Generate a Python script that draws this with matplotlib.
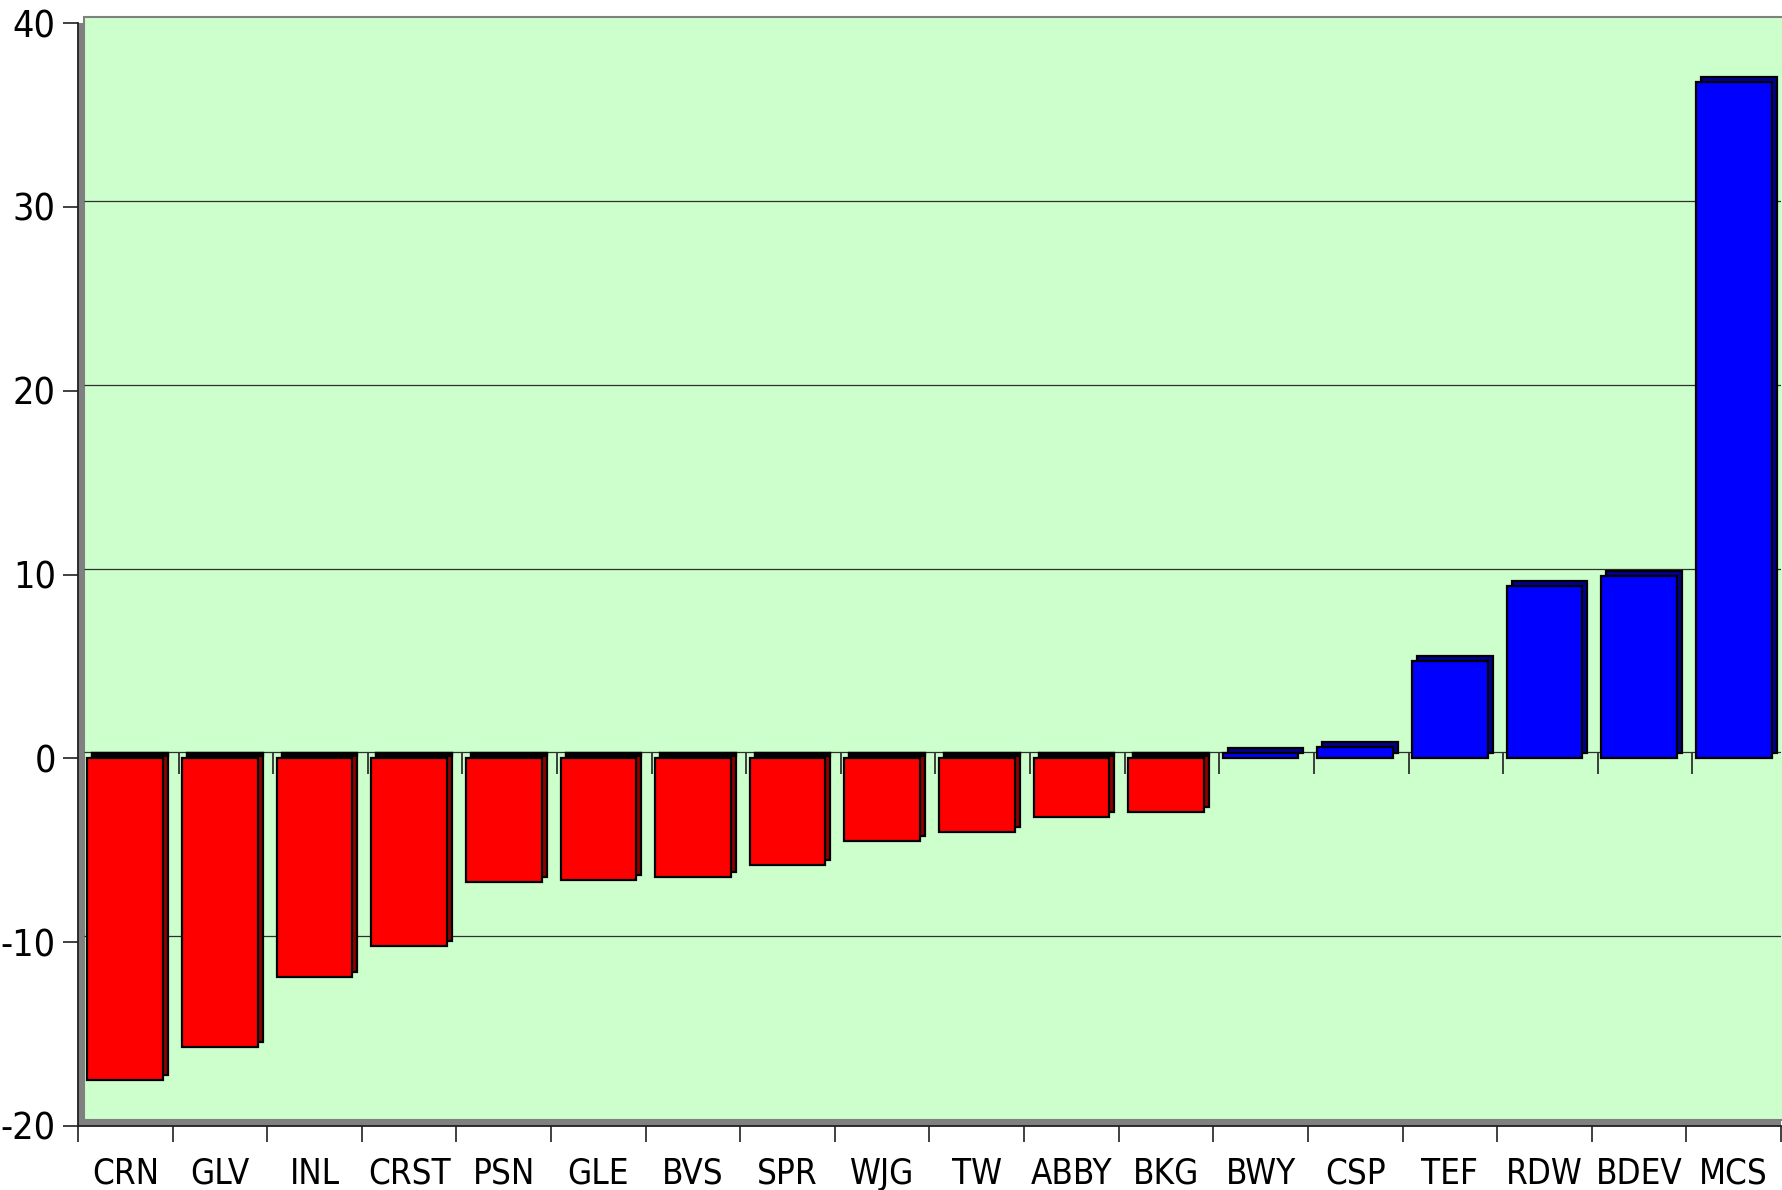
import matplotlib
matplotlib.use('Agg')
import matplotlib.pyplot as plt
import matplotlib.transforms as mtransforms
from matplotlib.patches import Rectangle
from matplotlib.ticker import FixedLocator

categories = ['CRN', 'GLV', 'INL', 'CRST', 'PSN', 'GLE', 'BVS', 'SPR', 'WJG', 'TW',
              'ABBY', 'BKG', 'BWY', 'CSP', 'TEF', 'RDW', 'BDEV', 'MCS']
values = [-17.5, -15.7, -11.9, -10.2, -6.7, -6.6, -6.45, -5.8, -4.5, -4.0,
          -3.2, -2.9, 0.3, 0.6, 5.3, 9.4, 9.9, 36.8]
yticks = [-20, -10, 0, 10, 20, 30, 40]

plt.rcParams['font.family'] = ['DejaVu Sans']
plt.rcParams['font.stretch'] = 'condensed'

W, H = 1782, 1190
fig = plt.figure(figsize=(W / 100, H / 100), dpi=100)
ax = fig.add_axes([78 / W, 64 / H, (1781 - 78) / W, (1126 - 23) / H])
ax.set_xlim(-0.5, len(categories) - 0.5)
ax.set_ylim(-20, 40)
ax.patch.set_visible(False)

depth = mtransforms.ScaledTranslation(6 / 100, 6 / 100, fig.dpi_scale_trans)
bar_depth = mtransforms.ScaledTranslation(5 / 100, 5 / 100, fig.dpi_scale_trans)

ax.add_patch(Rectangle((0, 0), 1, 1, transform=ax.transAxes, facecolor='#808080',
                       edgecolor='none', zorder=0.1, clip_on=False))
ax.add_patch(Rectangle((0, 0), 1, 1, transform=ax.transAxes + depth, facecolor='#CCFFCC',
                       edgecolor='#808080', lw=1.5, zorder=0.2, clip_on=False))

x = list(range(len(categories)))
ax.hlines([t for t in yticks if -20 < t < 40], -0.5, len(categories) - 0.5,
          colors='#303030', lw=0.9, transform=ax.transData + depth, zorder=0.3)
bounds = [i - 0.5 for i in range(1, len(categories) + 1)]
ax.vlines(bounds, -1.2, 0, colors='#303030', lw=1.3, transform=ax.transData + depth, zorder=0.3)

colors = ['#FF0000' if v < 0 else '#0000FF' for v in values]
side = ['#900000' if v < 0 else '#000090' for v in values]

for i, v in enumerate(values):
    ax.bar(i, v, width=0.8, color=side[i], edgecolor='black', lw=1.6,
           transform=ax.transData + bar_depth, zorder=2)
    if v < 0:
        ax.bar(i, -0.12, bottom=0, width=0.8, color='black', edgecolor='black', lw=1.6,
               transform=ax.transData + bar_depth, zorder=2.1)
ax.bar(x, values, width=0.8, color=colors, edgecolor='black', lw=1.6, zorder=3)

for s in ['top', 'right']:
    ax.spines[s].set_visible(False)
for s in ['left', 'bottom']:
    ax.spines[s].set_color('#202020')
    ax.spines[s].set_linewidth(1.3)
    ax.spines[s].set_zorder(4)

ax.set_yticks(yticks)
ax.set_yticklabels([str(t) for t in yticks])
ax.tick_params(axis='y', length=11, width=1.2, color='#202020', pad=5, labelsize=27)

ax.set_xticks(x)
ax.set_xticklabels(categories)
ax.xaxis.set_minor_locator(FixedLocator([-0.5] + bounds))
ax.tick_params(axis='x', which='major', length=0, pad=22, labelsize=25)
ax.tick_params(axis='x', which='minor', length=11.5, width=1.2, color='#202020')

fig.savefig('out.png', dpi=100)
